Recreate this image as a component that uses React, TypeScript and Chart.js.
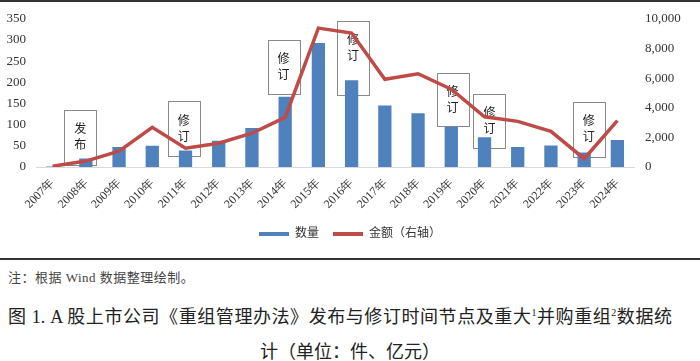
import React, { useEffect, useRef } from "react";
import { Chart, registerables } from "chart.js";

Chart.register(...registerables);

const years = [
  "2007年", "2008年", "2009年", "2010年", "2011年", "2012年", "2013年", "2014年", "2015年",
  "2016年", "2017年", "2018年", "2019年", "2020年", "2021年", "2022年", "2023年", "2024年",
];
const dealCounts = [1, 20, 47, 50, 39, 62, 92, 166, 293, 205, 145, 127, 95, 70, 47, 51, 34, 64];
const dealAmounts = [50, 400, 1070, 2680, 1270, 1600, 2280, 3350, 9370, 9040, 5920, 6290, 5250, 3390, 3080, 2410, 560, 3125];

const countMax = 350;
const countStep = 50;
const amountMax = 10000;
const amountStep = 2000;

const noteYears = ["2008年", "2011年", "2014年", "2016年", "2019年", "2020年", "2023年"];
const noteLabels = ["发布", "修订", "修订", "修订", "修订", "修订", "修订"];
const noteTops = [135, 156, 301, 345, 223, 173, 154];
const noteBottoms = [6, 27, 173, 170, 97, 45, 25];
const noteShift = [-0.17, -0.05, -0.05, 0.04, 0.04, 0.15, 0.14];

const SERIF = '"Liberation Serif", serif';
const CJK = '"Liberation Serif", "Noto Sans CJK SC", serif';

const notesPlugin = {
  id: "notes",
  beforeDatasetsDraw(chart: any) {
    const { ctx } = chart;
    const x = chart.scales.x;
    const y = chart.scales.y;
    const cw = x.getPixelForValue(1) - x.getPixelForValue(0);
    ctx.save();
    noteYears.forEach((yr, i) => {
      const idx = years.indexOf(yr);
      const cx = x.getPixelForValue(idx) + noteShift[i] * cw;
      const top = y.getPixelForValue(noteTops[i]);
      const bot = y.getPixelForValue(noteBottoms[i]);
      const w = Math.round(cw * 0.96);
      ctx.strokeStyle = "#8a8a8a";
      ctx.lineWidth = 1;
      ctx.strokeRect(Math.round(cx - w / 2) + 0.5, Math.round(top) + 0.5, w, Math.round(bot - top));
      ctx.fillStyle = "#222";
      ctx.font = '12px "Noto Sans CJK SC"';
      ctx.textAlign = "center";
      ctx.textBaseline = "middle";
      Array.from(noteLabels[i]).forEach((c, j) => {
        ctx.fillText(c, cx, top + 19 + j * 16);
      });
    });
    ctx.restore();
  },
};

export default function App() {
  const ref = useRef<HTMLCanvasElement | null>(null);

  useEffect(() => {
    if (!ref.current) return;
    const chart = new Chart(ref.current, {
      type: "bar",
      data: {
        labels: years,
        datasets: [
          {
            type: "line",
            label: "金额（右轴）",
            data: dealAmounts,
            yAxisID: "y1",
            borderColor: "#BE4B48",
            backgroundColor: "#BE4B48",
            borderWidth: 3.5,
            pointRadius: 0,
            tension: 0,
            order: 0,
          } as any,
          {
            type: "bar",
            label: "数量",
            data: dealCounts,
            yAxisID: "y",
            backgroundColor: "#4F81BD",
            barPercentage: 0.4,
            categoryPercentage: 1,
            order: 1,
          },
        ],
      },
      options: {
        animation: false,
        responsive: true,
        maintainAspectRatio: false,
        layout: { padding: { top: 17, bottom: 10, left: 0, right: 0 } },
        plugins: {
          tooltip: { enabled: false },
          legend: {
            position: "bottom",
            reverse: true,
            labels: {
              boxWidth: 30,
              boxHeight: 4,
              padding: 14,
              color: "#333",
              font: { size: 12, family: CJK },
              generateLabels(chart: any) {
                return chart.data.datasets.map((ds: any, i: number) => ({
                  text: ds.label,
                  fillStyle: ds.type === "line" ? ds.borderColor : ds.backgroundColor,
                  strokeStyle: ds.type === "line" ? ds.borderColor : ds.backgroundColor,
                  lineWidth: 0,
                  hidden: false,
                  datasetIndex: i,
                  fontColor: "#333",
                }));
              },
            },
          },
        },
        scales: {
          x: {
            grid: { display: false, drawTicks: false },
            border: { display: true, color: "#d9d9d9", width: 1 },
            ticks: {
              autoSkip: false,
              maxRotation: 45,
              minRotation: 45,
              padding: 9,
              color: "#333",
              font: { size: 12, family: SERIF },
            },
            afterFit(s: any) {
              s.height = 47;
            },
          },
          y: {
            position: "left",
            min: 0,
            max: countMax,
            grid: { display: false, drawTicks: false },
            border: { display: false },
            ticks: {
              stepSize: countStep,
              padding: 10,
              color: "#333",
              font: { size: 13, family: SERIF },
            },
            afterFit(s: any) {
              s.width = 36;
            },
          },
          y1: {
            position: "right",
            min: 0,
            max: amountMax,
            grid: { display: false, drawTicks: false },
            border: { display: false },
            ticks: {
              stepSize: amountStep,
              padding: 11,
              color: "#333",
              font: { size: 13, family: SERIF },
              callback: (v: any) => Number(v).toLocaleString("en-US"),
            },
            afterFit(s: any) {
              s.width = 66;
            },
          },
        },
      },
      plugins: [notesPlugin],
    });
    return () => chart.destroy();
  }, []);

  return (
    <div style={{ position: "absolute", left: 0, top: 0, width: 700, height: 361, background: "#fff", overflow: "hidden" }}>
      <div style={{ position: "absolute", left: 0, top: 0, width: 700, height: 260 }}>
        <canvas ref={ref} />
      </div>
      <div style={{ position: "absolute", left: 0, top: 0, width: 700, height: 2, background: "#333" }} />
      <div style={{ position: "absolute", left: 0, top: 258, width: 700, height: 2, background: "#333" }} />
      <div
        style={{
          position: "absolute",
          left: 8,
          top: 269,
          fontFamily: CJK,
          fontSize: 13,
          lineHeight: "18px",
          color: "#444",
          whiteSpace: "nowrap",
          letterSpacing: 0.5,
        }}
      >
        注：根据 Wind 数据整理绘制。
      </div>
      <div
        style={{
          position: "absolute",
          left: 8,
          top: 305,
          width: 664,
          fontFamily: CJK,
          fontSize: 18,
          lineHeight: "24px",
          color: "#222",
          whiteSpace: "nowrap",
          textAlign: "justify",
          textAlignLast: "justify" as any,
        }}
      >
        图 1. A 股上市公司《重组管理办法》发布与修订时间节点及重大<sup style={{ fontSize: 10, lineHeight: 0 }}>1</sup>并购重组<sup style={{ fontSize: 10, lineHeight: 0 }}>2</sup>数据统
      </div>
      <div
        style={{
          position: "absolute",
          left: 0,
          top: 340,
          width: 700,
          textAlign: "center",
          fontFamily: CJK,
          fontSize: 18,
          lineHeight: "24px",
          color: "#222",
          whiteSpace: "nowrap",
        }}
      >
        计（单位：件、亿元）
      </div>
    </div>
  );
}
